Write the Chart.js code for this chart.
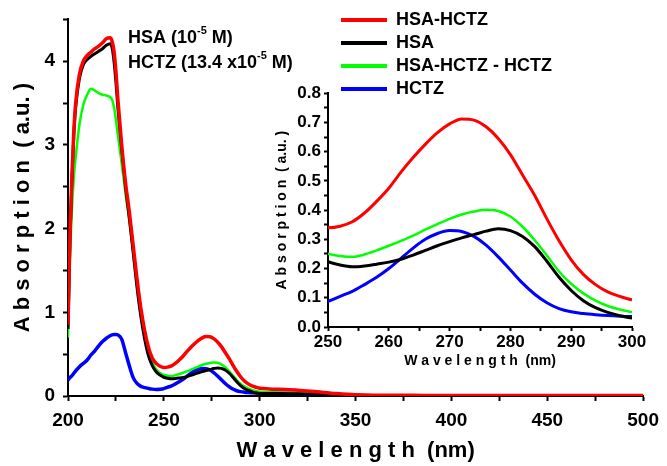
<!DOCTYPE html>
<html>
<head>
<meta charset="utf-8">
<script src="https://cdn.jsdelivr.net/npm/chart.js@4.4.0/dist/chart.umd.min.js"></script>
<style>
  html, body { margin: 0; padding: 0; background: #fff; }
  #wrap { position: relative; width: 667px; height: 466px; overflow: hidden; }
  canvas { position: absolute; }
  #mainChart { left: 0; top: 0; }
  #insetChart { left: 260px; top: 80px; }
  #legendChart { left: 336px; top: 6px; }
</style>
</head>
<body>
<div id="wrap">
  <canvas id="mainChart" width="667" height="466"></canvas>
  <canvas id="insetChart" width="407" height="300"></canvas>
  <canvas id="legendChart" width="330" height="100"></canvas>
</div>
<script>
// wavelength (nm) and absorbance
const wavelengths = [200, 201, 202, 203, 204, 206, 208, 210, 212, 214, 216, 218, 220, 222, 223, 224, 225, 226,
  228, 230, 232, 234, 236, 238, 240, 242, 244, 246, 248, 250, 252, 254, 256, 258, 260, 262, 264, 266, 268,
  270, 272, 274, 276, 278, 280, 282, 284, 286, 288, 290, 292, 294, 296, 298, 300,
  305, 310, 320, 330, 340, 350, 360, 380, 400, 450, 500];

const hsaHctz = [0.85, 1.9, 2.6, 3.15, 3.5, 3.85, 4.0, 4.07, 4.11, 4.15, 4.18, 4.22, 4.27, 4.28, 4.24, 4.12, 3.88, 3.55,
  3.0, 2.55, 2.2, 1.8, 1.4, 1.05, 0.78, 0.58, 0.45, 0.39, 0.355, 0.34, 0.345, 0.36, 0.39, 0.43, 0.475, 0.53, 0.58, 0.625, 0.665,
  0.695, 0.712, 0.708, 0.685, 0.645, 0.59, 0.52, 0.45, 0.37, 0.295, 0.23, 0.18, 0.145, 0.12, 0.105, 0.093,
  0.085, 0.08, 0.07, 0.05, 0.03, 0.015, 0.01, 0.008, 0.006, 0.005, 0.005];

const hsa = [0.8, 1.85, 2.55, 3.1, 3.45, 3.8, 3.96, 4.02, 4.06, 4.09, 4.12, 4.15, 4.19, 4.21, 4.16, 4.0, 3.75, 3.45,
  2.95, 2.5, 2.12, 1.72, 1.3, 0.95, 0.68, 0.48, 0.36, 0.29, 0.25, 0.224, 0.212, 0.206, 0.209, 0.215, 0.222, 0.232, 0.246, 0.262, 0.278,
  0.292, 0.305, 0.316, 0.328, 0.336, 0.33, 0.31, 0.275, 0.225, 0.17, 0.125, 0.09, 0.066, 0.05, 0.039, 0.031,
  0.03, 0.03, 0.027, 0.021, 0.014, 0.008, 0.005, 0.004, 0.003, 0.003, 0.003];

const hsaHctzMinusHctz = [0.7, 1.6, 2.2, 2.6, 2.85, 3.25, 3.48, 3.6, 3.67, 3.65, 3.62, 3.6, 3.59, 3.57, 3.54, 3.45, 3.3, 3.12,
  2.78, 2.42, 2.1, 1.7, 1.3, 0.97, 0.72, 0.52, 0.4, 0.32, 0.275, 0.251, 0.243, 0.24, 0.248, 0.262, 0.278, 0.295, 0.313, 0.333, 0.352,
  0.37, 0.385, 0.395, 0.401, 0.397, 0.378, 0.343, 0.297, 0.245, 0.19, 0.148, 0.115, 0.09, 0.072, 0.06, 0.051,
  0.045, 0.04, 0.035, 0.028, 0.018, 0.01, 0.006, 0.005, 0.004, 0.004, 0.004];

const hctz = [0.19, 0.22, 0.24, 0.27, 0.3, 0.35, 0.39, 0.43, 0.49, 0.54, 0.6, 0.65, 0.69, 0.72, 0.73, 0.735, 0.735, 0.73,
  0.68, 0.52, 0.36, 0.22, 0.15, 0.115, 0.1, 0.09, 0.082, 0.078, 0.08, 0.088, 0.105, 0.122, 0.145, 0.17, 0.2, 0.235, 0.27, 0.3, 0.32,
  0.33, 0.327, 0.31, 0.28, 0.24, 0.195, 0.15, 0.112, 0.083, 0.063, 0.052, 0.046, 0.042, 0.039, 0.037, 0.036,
  0.035, 0.034, 0.03, 0.022, 0.012, 0.006, 0.004, 0.003, 0.003, 0.003, 0.003];

const seriesLabels = ["HSA-HCTZ", "HSA", "HSA-HCTZ - HCTZ", "HCTZ"];
const seriesValues = [hsaHctz, hsa, hsaHctzMinusHctz, hctz];
const seriesColors = ["#ff0000", "#000000", "#00ff00", "#0000ff"];

const noteLines = [["HSA (10", "-5", " M)"], ["HCTZ (13.4 x10", "-5", " M)"]];

Chart.defaults.font.family = '"Liberation Sans", Arial, sans-serif';
Chart.defaults.font.weight = "bold";
Chart.defaults.color = "#000";

function makeDatasets(widths) {
  return seriesValues.map((vals, i) => ({
    label: seriesLabels[i],
    data: wavelengths.map((w, j) => ({ x: w, y: vals[j] })),
    borderColor: seriesColors[i],
    backgroundColor: seriesColors[i],
    borderWidth: widths[i],
    pointRadius: 0,
    cubicInterpolationMode: "monotone",
    fill: false,
  }));
}

function axisLines(tickLength) {
  return {
    grid: { drawOnChartArea: false, tickLength: tickLength, tickWidth: 2, tickColor: "#000" },
    border: { color: "#000", width: 2 },
  };
}

// concentration note next to the big peak
const notesPlugin = {
  id: "notes",
  afterDraw(chart) {
    const ctx = chart.ctx;
    ctx.save();
    ctx.fillStyle = "#000";
    ctx.textBaseline = "middle";
    noteLines.forEach((parts, i) => {
      const y = 38 + i * 25;
      let x = 128;
      ctx.font = 'bold 18px "Liberation Sans", Arial, sans-serif';
      ctx.fillText(parts[0], x, y);
      x += ctx.measureText(parts[0]).width;
      ctx.font = 'bold 11px "Liberation Sans", Arial, sans-serif';
      ctx.fillText(parts[1], x, y - 7);
      x += ctx.measureText(parts[1]).width;
      ctx.font = 'bold 18px "Liberation Sans", Arial, sans-serif';
      ctx.fillText(parts[2], x, y);
    });
    ctx.restore();
  }
};

new Chart(document.getElementById("mainChart"), {
  type: "line",
  data: { datasets: makeDatasets([3.5, 3, 2.5, 3.5]) },
  options: {
    responsive: false,
    animation: false,
    layout: { padding: { top: 14, right: 19, left: 0, bottom: 0 } },
    plugins: { legend: { display: false }, tooltip: { enabled: false } },
    scales: {
      x: {
        type: "linear", min: 200, max: 500,
        ticks: { stepSize: 25, autoSkip: false, maxRotation: 0, padding: 8, font: { size: 19 },
          callback: v => (v % 50 === 0 ? v : "") },
        ...axisLines(5),
        title: { display: true, text: "W a v e l e n g t h  (nm)", font: { size: 22 }, padding: 2 },
        afterFit: s => { s.height = 70; }
      },
      y: {
        min: 0, max: 4.5,
        ticks: { stepSize: 0.5, autoSkip: false, padding: 8, font: { size: 19 },
          callback: v => (Number.isInteger(v) ? v : "") },
        ...axisLines(5),
        title: { display: true, text: "A b s o r p t i o n  ( a.u. )", font: { size: 22 }, padding: 10 },
        afterFit: s => { s.width = 68; }
      }
    }
  },
  plugins: [notesPlugin]
});

new Chart(document.getElementById("insetChart"), {
  type: "line",
  data: { datasets: makeDatasets([3, 3, 2.5, 3]) },
  options: {
    responsive: false,
    animation: false,
    layout: { padding: { top: 11, right: 35, left: 0, bottom: 0 } },
    plugins: { legend: { display: false }, tooltip: { enabled: false } },
    scales: {
      x: {
        type: "linear", min: 250, max: 300,
        ticks: { stepSize: 5, autoSkip: false, maxRotation: 0, padding: 1, font: { size: 17 },
          callback: v => (v % 10 === 0 ? v : "") },
        ...axisLines(4),
        title: { display: true, text: "W a v e l e n g t h  (nm)", font: { size: 14 }, padding: 10 },
        afterFit: s => { s.height = 53; }
      },
      y: {
        min: 0, max: 0.8,
        ticks: { stepSize: 0.05, autoSkip: false, padding: 3, font: { size: 17 },
          callback: v => (Math.abs(v * 10 - Math.round(v * 10)) < 1e-6 ? v.toFixed(1) : "") },
        ...axisLines(4),
        title: { display: true, text: "A b s o r p t i o n  ( a.u. )", font: { size: 14 }, padding: 14 },
        afterFit: s => { s.width = 68; }
      }
    }
  }
});

// legend only: empty datasets carrying the series names and colours
new Chart(document.getElementById("legendChart"), {
  type: "line",
  data: {
    datasets: seriesLabels.map((label, i) => ({
      label: label, data: [], borderColor: seriesColors[i], backgroundColor: seriesColors[i], borderWidth: 3
    }))
  },
  options: {
    responsive: false,
    animation: false,
    layout: { padding: 0 },
    scales: { x: { display: false, type: "linear" }, y: { display: false } },
    plugins: {
      tooltip: { enabled: false },
      legend: {
        position: "left",
        align: "start",
        maxWidth: 330,
        labels: {
          boxWidth: 46, boxHeight: 4, padding: 5, color: "#000",
          font: { size: 18, weight: "bold" },
          generateLabels: chart => Chart.defaults.plugins.legend.labels.generateLabels(chart)
            .map(item => Object.assign(item, { lineWidth: 0 }))
        }
      }
    }
  }
});
</script>
</body>
</html>
